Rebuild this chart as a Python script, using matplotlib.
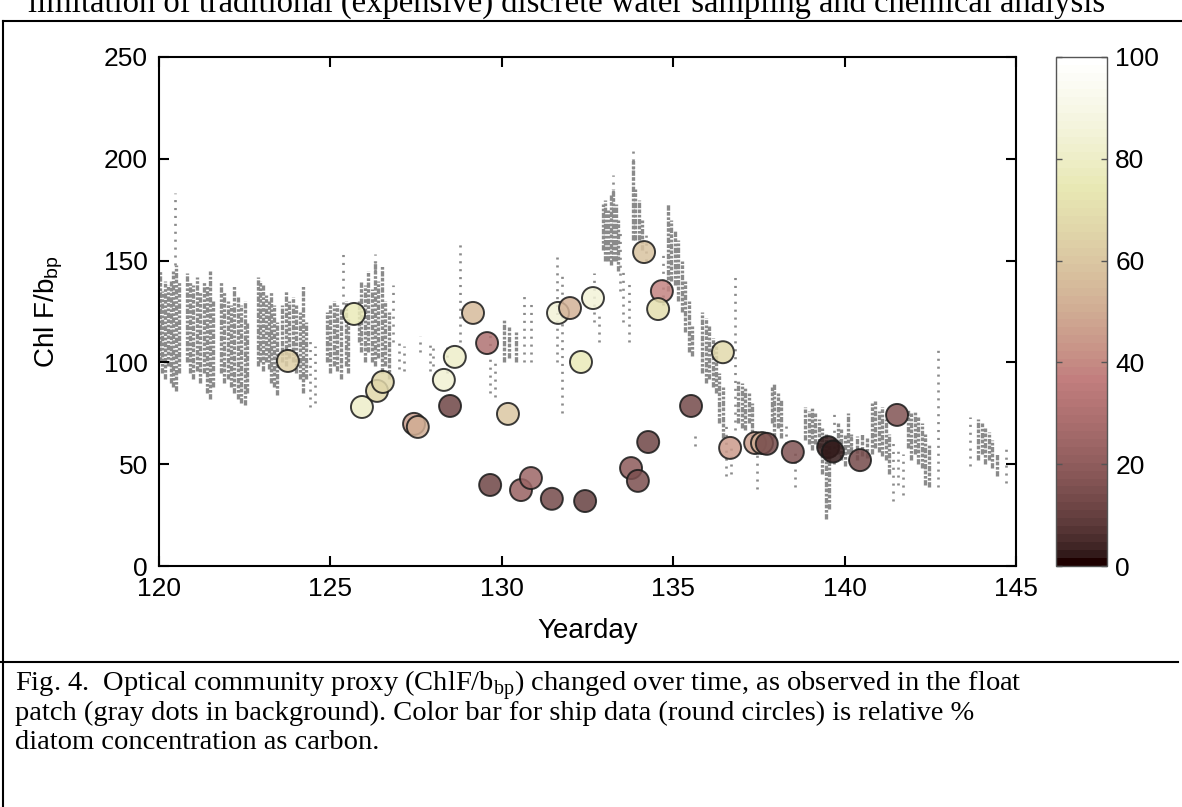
import matplotlib
matplotlib.use('Agg')
import matplotlib.pyplot as plt
from matplotlib.lines import Line2D
from matplotlib.cm import ScalarMappable
from matplotlib.colors import Normalize

plt.rcParams['font.family'] = ['Liberation Sans', 'DejaVu Sans']
plt.rcParams['mathtext.fontset'] = 'custom'
plt.rcParams['mathtext.rm'] = 'Liberation Serif'
plt.rcParams['mathtext.sf'] = 'Liberation Sans'

# ---- ship data (circles): yearday, ChlF/bbp, % diatom carbon ----
ship_day = [123.76, 125.69, 125.92, 126.36, 126.53, 127.44, 127.55, 128.31, 128.63, 128.49,
            129.16, 129.57, 129.66, 130.18, 130.56, 130.85, 131.46, 131.64, 131.99, 132.66,
            132.31, 132.43, 134.15, 134.67, 134.56, 133.77, 133.97, 134.27, 135.52, 136.45,
            136.66, 137.39, 137.59, 137.73, 138.49, 139.52, 139.66, 140.45, 141.53]
ship_ratio = [100.7, 123.8, 78.1, 86.0, 90.4, 69.8, 68.3, 91.4, 102.7, 78.6,
              124.3, 109.5, 39.8, 74.7, 37.3, 43.2, 33.0, 124.3, 126.7, 131.6,
              100.2, 31.9, 154.2, 135.0, 126.2, 48.1, 41.8, 60.9, 78.6, 105.0,
              58.0, 60.4, 60.4, 60.0, 56.0, 58.4, 56.2, 52.0, 74.2]
ship_diatom = [64, 76, 80, 66, 66, 46, 50, 84, 80, 12,
               55, 30, 12, 60, 22, 24, 14, 85, 52, 85,
               76, 10, 58, 38, 70, 20, 15, 12, 14, 68,
               44, 46, 50, 14, 16, 3, 3, 14, 16]

# ---- float profiles (gray dots): dense columns, yearday with low/high extent ----
float_day = [120.02, 120.10, 120.18, 120.26, 120.34, 120.42, 120.50, 120.58,
             120.82, 120.90, 121.00, 121.10, 121.20, 121.30, 121.40, 121.50, 121.58,
             121.82, 121.90, 122.00, 122.10, 122.20, 122.30, 122.40, 122.50, 122.58,
             122.88, 122.96, 123.04, 123.12, 123.20, 123.28, 123.36, 123.44,
             123.60, 123.70, 123.80, 123.90, 124.00, 124.10, 124.20, 124.30,
             124.90, 125.00, 125.10, 125.20, 125.30, 125.45, 125.52,
             125.83, 125.90, 126.00, 126.10, 126.20, 126.30, 126.40, 126.50, 126.58, 126.70,
             130.05, 130.20, 130.40,
             132.95, 133.02, 133.10, 133.18, 133.24, 133.32, 133.40,
             133.83, 133.90, 134.00, 134.10,
             134.85, 134.95, 135.05, 135.15, 135.25, 135.35, 135.45, 135.55,
             135.84, 135.95, 136.05, 136.15, 136.25, 136.35, 136.45,
             136.90, 137.00, 137.10, 137.20, 137.30,
             137.88, 137.95, 138.05, 138.15,
             138.85, 138.95, 139.05, 139.15, 139.25, 139.35, 139.45, 139.55,
             139.80, 139.90, 140.00, 140.10, 140.20, 140.35, 140.50, 140.65,
             140.80, 140.90, 141.00, 141.10, 141.20, 141.30,
             141.85, 141.95, 142.05, 142.15, 142.25, 142.35, 142.45,
             143.90, 144.00, 144.10, 144.20, 144.30, 144.45]
float_lo = [100, 95, 92, 98, 90, 88, 86, 95,
            100, 95, 92, 96, 90, 95, 85, 82, 88,
            95, 90, 92, 88, 85, 82, 80, 79, 85,
            98, 100, 96, 100, 97, 90, 88, 84,
            100, 98, 102, 100, 95, 92, 85, 92,
            100, 95, 98, 96, 92, 98, 95,
            110, 105, 100, 105, 100, 98, 102, 95, 98, 92,
            100, 102, 100,
            155, 150, 150, 148, 150, 150, 145,
            160, 160, 160, 155,
            135, 140, 138, 130, 125, 115, 105, 103,
            95, 90, 92, 88, 85, 70, 63,
            70, 68, 67, 70, 60,
            70, 63, 68, 63,
            62, 60, 57, 60, 58, 45, 23, 28,
            55, 52, 49, 55, 56, 52, 54, 53,
            55, 58, 56, 54, 52, 45,
            58, 52, 55, 50, 48, 40, 39,
            52, 55, 50, 52, 48, 44]
float_hi = [145, 135, 140, 138, 140, 145, 148, 140,
            144, 140, 138, 142, 135, 140, 138, 145, 130,
            140, 135, 130, 128, 138, 132, 128, 130, 120,
            142, 140, 138, 133, 130, 135, 128, 120,
            128, 135, 130, 132, 128, 125, 138, 120,
            125, 128, 130, 128, 126, 130, 122,
            130, 140, 138, 145, 136, 150, 140, 148, 130, 125,
            121, 118, 115,
            178, 180, 175, 182, 185, 178, 170,
            200, 185, 180, 170,
            178, 170, 165, 160, 150, 140, 130, 118,
            125, 122, 118, 112, 108, 95, 88,
            91, 90, 88, 85, 80,
            88, 90, 85, 82,
            78, 76, 78, 75, 72, 68, 65, 60,
            70, 68, 65, 75, 65, 64, 65, 63,
            80, 81, 76, 78, 72, 65,
            77, 75, 76, 73, 70, 65, 60,
            72, 70, 68, 66, 62, 55]

# ---- float profiles: sparse columns ----
sparse_day = [120.47, 124.40, 124.55, 125.37, 126.30, 126.83, 127.00, 127.15, 127.60,
              127.90, 128.00, 128.40, 128.78, 129.65, 129.80, 130.65, 130.85, 131.60,
              131.76, 132.70, 132.85, 133.24, 133.45, 133.55, 133.70, 133.83, 134.20,
              134.70, 135.64, 136.55, 136.70, 136.80, 137.45, 138.30, 138.55, 139.70,
              140.20, 141.40, 141.55, 141.70, 142.72, 143.65, 144.72]
sparse_lo = [148, 78, 80, 125, 145, 110, 97, 96, 105,
             96, 98, 95, 110, 85, 83, 100, 100, 100,
             75, 120, 110, 180, 135, 120, 110, 195, 150,
             128, 59, 44, 45, 67, 38, 60, 39, 50,
             55, 32, 40, 35, 39, 49, 41]
sparse_hi = [183, 112, 108, 154, 153, 138, 110, 108, 113,
             110, 108, 110, 159, 115, 100, 135, 130, 152,
             145, 144, 125, 192, 165, 145, 140, 206, 165,
             155, 65, 70, 60, 142, 67, 70, 57, 77,
             65, 62, 58, 55, 106, 73, 60]

# ---- text ----
top_text = "limitation of traditional (expensive) discrete water sampling and chemical analysis"
caption_lines = [
    "Fig. 4.  Optical community proxy (ChlF/b$_{\\mathrm{bp}}$) changed over time, as observed in the float",
    "patch (gray dots in background). Color bar for ship data (round circles) is relative %",
    "diatom concentration as carbon.",
]

W, H = 1182, 807
fig = plt.figure(figsize=(W / 100, H / 100), dpi=100)

ax = fig.add_axes([159 / W, 1 - 566 / H, (1016 - 159) / W, (566 - 57) / H])
gray = '#8a8a8a'
ax.vlines(float_day, float_lo, float_hi, colors=gray, linewidth=2.4,
          linestyles=(0, (1.6, 0.45, 0.8, 0.5, 1.1, 0.4)), zorder=1)
ax.vlines(sparse_day, sparse_lo, sparse_hi, colors=gray, linewidth=1.9,
          linestyles=(0, (0.8, 2.2)), zorder=1)

cmap = plt.get_cmap('pink', 64)
norm = Normalize(vmin=0, vmax=100)
ax.scatter(ship_day, ship_ratio, c=ship_diatom, cmap=cmap, norm=norm, s=250,
           edgecolors='#1a1a1a', linewidths=1.4, alpha=0.85, zorder=3)

ax.set_xlim(120, 145)
ax.set_ylim(0, 250)
ax.set_xticks(range(120, 146, 5))
ax.set_yticks(range(0, 251, 50))
ax.tick_params(direction='in', length=7, width=1.5, top=True, right=True,
               labelsize=19, pad=8)
for s in ax.spines.values():
    s.set_linewidth(1.5)
ax.set_xlabel('Yearday', fontsize=20, labelpad=12)
ax.set_ylabel('Chl F/b$_{\\mathsf{bp}}$', fontsize=20, labelpad=28)

cax = fig.add_axes([1056 / W, 1 - 566 / H, 51 / W, (566 - 57) / H])
cb = fig.colorbar(ScalarMappable(norm=norm, cmap=cmap), cax=cax, ticks=range(0, 101, 20))
cb.outline.set_edgecolor('#555555')
cb.outline.set_linewidth(1.0)
cb.ax.tick_params(direction='in', length=4, width=1, left=True, right=True,
                  labelsize=19, pad=6, color='#555555')

# page text and frame
fig.text(28 / W, 1 - 12 / H, top_text, family='Liberation Serif', fontsize=23.5,
         va='baseline', ha='left')
fig.add_artist(Line2D([3 / W, 1], [1 - 21 / H, 1 - 21 / H], color='black', lw=1.5,
                      transform=fig.transFigure))
fig.add_artist(Line2D([3 / W, 3 / W], [0, 1 - 21 / H], color='black', lw=1.5,
                      transform=fig.transFigure))
fig.add_artist(Line2D([0, 1178 / W], [1 - 662 / H, 1 - 662 / H], color='black', lw=1.5,
                      transform=fig.transFigure))
for i, line in enumerate(caption_lines):
    fig.text(15 / W, 1 - (691 + 29 * i) / H, line, family='Liberation Serif',
             fontsize=20.5, va='baseline', ha='left')

fig.savefig('out.png', dpi=100)
